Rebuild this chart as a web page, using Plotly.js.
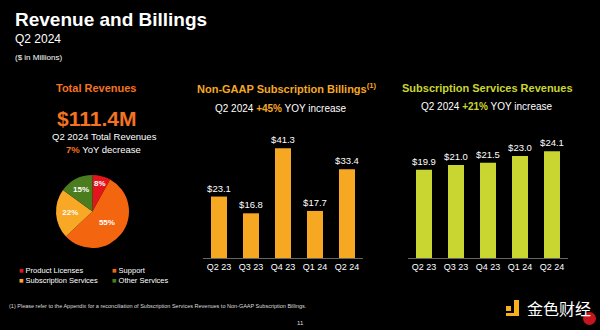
<!DOCTYPE html>
<html><head><meta charset="utf-8">
<script src="https://cdn.plot.ly/plotly-3.0.1.min.js"></script>
<style>html,body{margin:0;padding:0;background:#000;}#chart{width:600px;height:330px;}</style>
</head><body><div id="chart"></div>
<script>
// Data
const quarters = ["Q2 23", "Q3 23", "Q4 23", "Q1 24", "Q2 24"];
const billings = [23.1, 16.8, 41.3, 17.7, 33.4];
const subRevenues = [19.9, 21.0, 21.5, 23.0, 24.1];
const revenueSegments = ["Product Licenses", "Support", "Subscription Services", "Other Services"];
const revenueShares = [8, 55, 22, 15];
const segmentColors = ["#e3141b", "#f4650f", "#f8a825", "#4b7d1e"];

const FONT = "Liberation Sans, Arial, sans-serif";
const ORANGE = "#f47321";
const AMBER = "#f7a823";
const LIME = "#c9d631";

const traces = [
  {
    type: "pie", labels: revenueSegments, values: revenueShares,
    text: revenueShares.map(v => v + "%"), textinfo: "text",
    textposition: "inside", insidetextorientation: "horizontal",
    textfont: {family: FONT, size: 8, color: "#fff", weight: "bold"},
    marker: {colors: segmentColors, line: {width: 0}},
    sort: false, direction: "clockwise", rotation: 0,
    domain: {x: [56/600, 129/600], y: [1-248/330, 1-175/330]},
    showlegend: false, hoverinfo: "none"
  },
  {
    type: "bar", x: quarters, y: billings, xaxis: "x", yaxis: "y",
    marker: {color: AMBER}, width: 0.5,
    texttemplate: "$%{y:.1f}", textposition: "outside", cliponaxis: false, constraintext: "none",
    textfont: {family: FONT, size: 9.5, color: "#fff"}, showlegend: false
  },
  {
    type: "bar", x: quarters, y: subRevenues, xaxis: "x2", yaxis: "y2",
    marker: {color: LIME}, width: 0.5,
    texttemplate: "$%{y:.1f}", textposition: "outside", cliponaxis: false, constraintext: "none",
    textfont: {family: FONT, size: 9.5, color: "#fff"}, showlegend: false
  }
];

const yDom = [1-258/330, 1-125/330];
const xAxisCommon = {
  type: "category", showgrid: false, zeroline: false, showline: true,
  linecolor: "#666", linewidth: 1, ticks: "", fixedrange: true,
  tickfont: {family: FONT, size: 9, color: "#fff"}
};
const yAxisCommon = {visible: false, showgrid: false, zeroline: false, fixedrange: true};

function ann(x, y, text, size, color, opts) {
  return Object.assign({xref: "paper", yref: "paper", x: x/600, y: 1-y/330, text: text,
    showarrow: false, xanchor: "center", yanchor: "middle",
    font: {family: FONT, size: size, color: color}}, opts || {});
}

const legendItems = revenueSegments.map((s, i) => {
  const pos = [[17, 270], [110, 270], [17, 280], [110, 280]][i];
  return ann(pos[0], pos[1], '<span style="color:' + segmentColors[i] + '">■</span> ' + s, 7.5, "#fff", {xanchor: "left"});
});

const layout = {
  width: 600, height: 330,
  paper_bgcolor: "#000", plot_bgcolor: "#000",
  margin: {l: 0, r: 0, t: 0, b: 0},
  bargap: 0.5,
  xaxis: Object.assign({}, xAxisCommon, {domain: [203/600, 363/600], anchor: "y"}),
  yaxis: Object.assign({}, yAxisCommon, {domain: yDom, range: [0, 50], anchor: "x"}),
  xaxis2: Object.assign({}, xAxisCommon, {domain: [408/600, 568/600], anchor: "y2"}),
  yaxis2: Object.assign({}, yAxisCommon, {domain: yDom, range: [0, 30], anchor: "x2"}),
  annotations: [
    ann(13, 19, "<b>Revenue and Billings</b>", 19, "#fff", {xanchor: "left"}),
    ann(13, 39, "Q2 2024", 12, "#fff", {xanchor: "left"}),
    ann(13, 57, "($ in Millions)", 8, "#fff", {xanchor: "left"}),

    ann(97, 88, "<b>Total Revenues</b>", 11, ORANGE),
    ann(96, 118, "<b>$111.4M</b>", 21, ORANGE),
    ann(104, 136, "Q2 2024 Total Revenues", 9.5, "#fff"),
    ann(103, 149, '<b><span style="color:' + ORANGE + '">7%</span></b> YoY decrease', 9.5, "#fff"),

    ann(287, 88, "<b>Non-GAAP Subscription Billings<sup>(1)</sup></b>", 11, AMBER),
    ann(281, 108, 'Q2 2024 <b><span style="color:' + AMBER + '">+45%</span></b> YOY increase', 10, "#fff"),

    ann(487, 88, "<b>Subscription Services Revenues</b>", 11, LIME),
    ann(487, 106, 'Q2 2024 <b><span style="color:' + LIME + '">+21%</span></b> YOY increase', 10, "#fff"),

    ann(7, 306, "(1) Please refer to the Appendix for a reconciliation of Subscription Services Revenues to Non-GAAP Subscription Billings.", 5.5, "#ddd", {xanchor: "left"}),
    ann(300, 323, "11", 6, "#ddd"),
    ann(525, 308, "金色财经", 16, "#fff", {xanchor: "left", font: {family: "Noto Sans CJK SC", size: 16, color: "#fff"}})
  ].concat(legendItems),
  shapes: [
    {type: "rect", xref: "paper", yref: "paper", x0: 506/600, x1: 511/600, y0: 1-311/330, y1: 1-306/330, fillcolor: "#f7b21b", line: {width: 0}},
    {type: "rect", xref: "paper", yref: "paper", x0: 514/600, x1: 519/600, y0: 1-316/330, y1: 1-300/330, fillcolor: "#f7b21b", line: {width: 0}},
    {type: "rect", xref: "paper", yref: "paper", x0: 506/600, x1: 519/600, y0: 1-316/330, y1: 1-313/330, fillcolor: "#f7b21b", line: {width: 0}},
    {type: "circle", xref: "paper", yref: "paper", x0: 583/600, x1: 596/600, y0: 1-325/330, y1: 1-312/330, fillcolor: "#c4161c", line: {width: 0}}
  ]
};

Plotly.newPlot("chart", traces, layout, {displayModeBar: false, staticPlot: true});
</script></body></html>
